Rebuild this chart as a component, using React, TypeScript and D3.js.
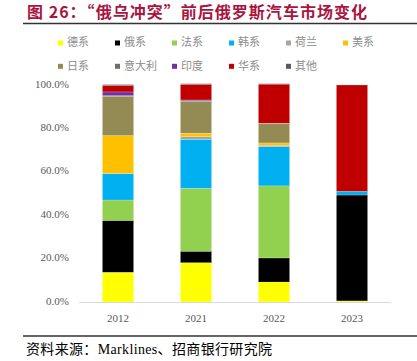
import React from "react";
import * as d3 from "d3";

const years = ["2012", "2021", "2022", "2023"];
const seriesNames = ["德系", "俄系", "法系", "韩系", "荷兰", "美系", "日系", "意大利", "印度", "华系", "其他"];
const seriesColors = ["#FFFF00", "#000000", "#92D050", "#00B0F0", "#A5A5A5", "#FFC000", "#948A54", "#6F6F6F", "#7030A0", "#C00000", "#5A5A5A"];
// values (%) per series, per year [2012, 2021, 2022, 2023]
const deVals = [13.7, 18.1, 9.2, 0.5];
const ruVals = [23.9, 5.3, 11.1, 48.8];
const frVals = [9.4, 29.0, 33.2, 0];
const krVals = [12.1, 22.6, 18.1, 1.7];
const nlVals = [0.2, 1.2, 0.6, 0];
const usVals = [17.4, 1.6, 1.1, 0];
const jpVals = [18.1, 14.6, 8.8, 0];
const itVals = [0.3, 0.3, 0.2, 0];
const inVals = [1.7, 0.4, 0.1, 0];
const cnVals = [3.0, 7.2, 18.0, 49.0];
const otherVals = [0.4, 0.3, 0.2, 0];
const seriesValues = [deVals, ruVals, frVals, krVals, nlVals, usVals, jpVals, itVals, inVals, cnVals, otherVals];
const yTicks = [0, 20, 40, 60, 80, 100];

const W = 417;
const H = 361;

export default function App() {
  const x = d3.scaleBand<string>().domain(years).range([79, 391]).paddingInner(0.6).paddingOuter(0.3);
  const y = d3.scaleLinear().domain([0, 100]).range([302, 85]);

  const rows = years.map((yr, i) => {
    const r: any = { year: yr };
    seriesNames.forEach((s, j) => (r[s] = seriesValues[j][i]));
    return r;
  });
  const stacked = d3.stack<any>().keys(seriesNames)(rows);

  const fmt = (v: number) => v.toFixed(1) + "%";

  return (
    <svg width={W} height={H} style={{ position: "absolute", left: 0, top: 0, background: "#fff" }}>
      <text x={27} y={18} fontFamily="'Noto Sans CJK SC', sans-serif" fontWeight="bold" fontSize={16} fill="#A8163F" textLength={340} lengthAdjust="spacing">
        图 26：“俄乌冲突”前后俄罗斯汽车市场变化
      </text>
      <line x1={23} x2={417} y1={23.5} y2={23.5} stroke="#333" strokeWidth={1.6} />

      {seriesNames.map((s, i) => {
        const col = i < 6 ? i : i - 6;
        const row = i < 6 ? 0 : 1;
        const lx = 58 + col * 57;
        const ly = 40.5 + row * 23.3;
        return (
          <g key={s}>
            <rect x={lx} y={ly} width={5} height={5} fill={seriesColors[i]} />
            <text x={lx + 9} y={ly + 2.8} dominantBaseline="middle" fontFamily="'Noto Sans CJK SC', sans-serif" fontSize={11} fill="#8C8C8C">
              {s}
            </text>
          </g>
        );
      })}

      {stacked.map((layer, j) => (
        <g key={seriesNames[j]} fill={seriesColors[j]}>
          {layer.map((d, i) => {
            const h = y(d[0]) - y(d[1]);
            if (h <= 0) return null;
            return (
              <rect key={i} x={x(years[i])} width={x.bandwidth()} y={y(d[1])} height={h} stroke="#ffffff" strokeOpacity={0.5} strokeWidth={0.4} />
            );
          })}
        </g>
      ))}

      <line x1={79} x2={391} y1={302.5} y2={302.5} stroke="#D9D9D9" strokeWidth={1} />

      {yTicks.map((t) => (
        <text key={t} x={69} y={y(t)} textAnchor="end" dominantBaseline="middle" fontFamily="'Liberation Serif', serif" fontSize={11} fill="#595959">
          {fmt(t)}
        </text>
      ))}
      {years.map((yr) => (
        <text key={yr} x={(x(yr) as number) + x.bandwidth() / 2} y={322} textAnchor="middle" fontFamily="'Liberation Serif', serif" fontSize={11} fill="#595959">
          {yr}
        </text>
      ))}

      <line x1={23} x2={417} y1={336} y2={336} stroke="#333" strokeWidth={1.6} />
      <text x={26} y={354} fontFamily="'Liberation Serif', 'Noto Sans CJK SC', serif" fontSize={14} fill="#000" textLength={246} lengthAdjust="spacing">
        资料来源：Marklines、招商银行研究院
      </text>
    </svg>
  );
}
